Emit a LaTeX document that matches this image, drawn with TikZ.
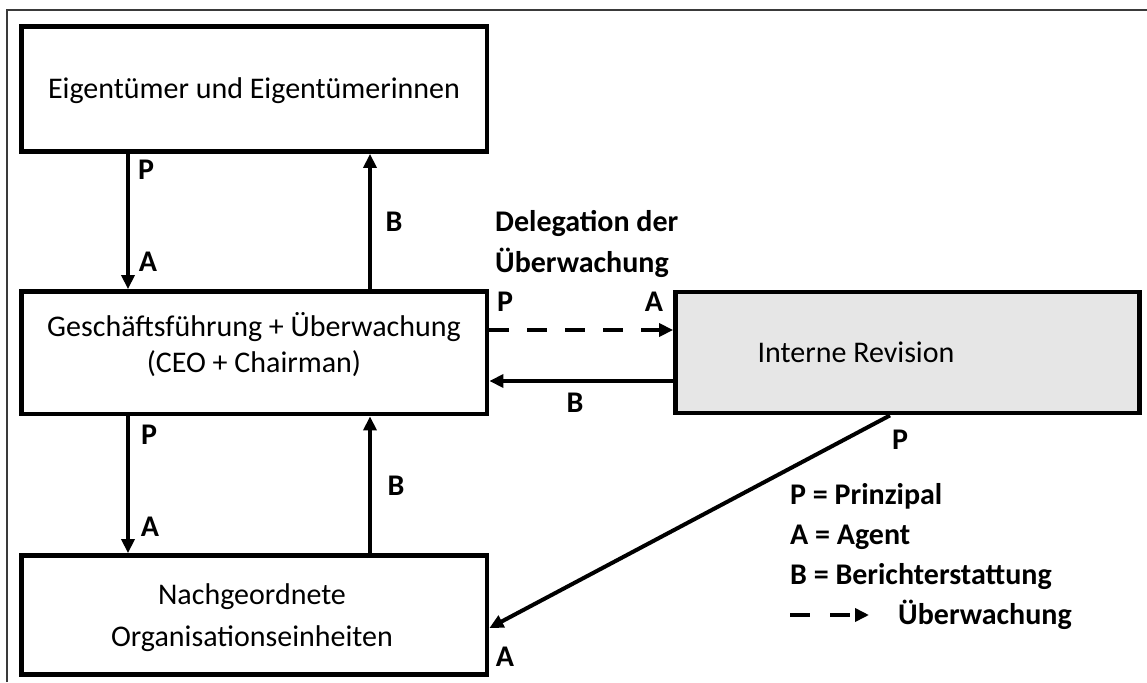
\documentclass[tikz,border=0pt]{standalone}
\usepackage{fontspec}
\setmainfont{Carlito}
\usetikzlibrary{arrows.meta,calc}
\definecolor{revfill}{HTML}{E6E6E6}
\definecolor{framegray}{HTML}{3A3A3A}
\begin{document}
\begin{tikzpicture}[x=1pt,y=-1pt,
  box/.style={draw, line width=4.8pt, rectangle, inner sep=0pt, outer sep=2.4pt,
              minimum width=465.5pt},
  boxtext/.style={font=\fontsize{30}{36}\selectfont, align=center, anchor=base, inner sep=0pt},
  lbl/.style={font=\fontsize{30}{36}\selectfont\bfseries, inner sep=0pt},
  flow/.style={line width=4pt, -{Triangle[length=14pt,width=13pt]}},
  watch/.style={flow, dash pattern=on 20pt off 18pt},
]
% canvas
\fill[white] (0,0) rectangle (1147,682);
\useasboundingbox (0,0) rectangle (1147,682);

% outer frame (only top and left edges fall inside the page)
\coordinate (fbl) at (7,682);
\coordinate (ftl) at (7,10);
\coordinate (ftr) at (1147,10);
\draw[line width=2pt, framegray] (fbl) -- (ftl) -- (ftr);

% boxes
\node[box, minimum height=125pt] (own) at (254.25,89) {};
\node[box, minimum height=122.5pt] (ceo) at (254.25,352.75) {};
\node[box, minimum height=119pt] (org) at (254.25,615) {};
\node[box, fill=revfill, minimum width=464pt, minimum height=121pt] (rev) at (907.5,352.5) {};

% box texts (a multi-line node's base anchor sits on its last line)
\node[boxtext] (ownT) at (254,98.7) {Eigentümer und Eigentümerinnen};
\node[boxtext] (ceoT) at (254,372.7) {Geschäftsführung + Überwachung\\(CEO + Chairman)};
\node[boxtext, font=\fontsize{30}{42}\selectfont] (orgT) at (252,646.7) {Nachgeordnete\\Organisationseinheiten};
\node[boxtext] (revT) at (856,362) {Interne Revision};

% guide coordinates for connector positions
\coordinate (xl) at (128,0);
\coordinate (xr) at (370,0);
\coordinate (ydash) at (0,330);
\coordinate (yback) at (0,381);
\coordinate (xd) at (890,0);
\coordinate (yd) at (0,628);

% vertical connectors
\draw[flow] (own.south -| xl) -- (ceo.north -| xl);
\draw[flow] (ceo.north -| xr) -- (own.south -| xr);
\draw[flow] (ceo.south -| xl) -- (org.north -| xl);
\draw[flow] (org.north -| xr) -- (ceo.south -| xr);

% connectors to and from the internal audit
\draw[watch] (ceo.east |- ydash) -- (rev.west |- ydash);
\draw[flow] (rev.west |- yback) -- (ceo.east |- yback);
\draw[flow] (rev.south -| xd) -- (org.east |- yd);

% role labels
\node[lbl] (p1) at (146,170) {P};
\node[lbl] (a1) at (148,262) {A};
\node[lbl] (b1) at (394,222) {B};
\node[lbl] (p2) at (149,435) {P};
\node[lbl] (a2) at (150,527) {A};
\node[lbl] (b2) at (396,486) {B};
\node[lbl] (p3) at (505,302) {P};
\node[lbl] (a3) at (654,302) {A};
\node[lbl] (b3) at (575,403) {B};
\node[lbl] (p4) at (900,440) {P};
\node[lbl] (a4) at (505,657) {A};

\node[lbl, anchor=base west, align=left, font=\fontsize{30}{41}\selectfont\bfseries]
  (deleg) at (495,272.5) {Delegation der\\Überwachung};

% legend
\node[lbl, anchor=base west] (kP) at (790,504.5) {P = Prinzipal};
\node[lbl, anchor=base west] (kA) at (790,544.5) {A = Agent};
\node[lbl, anchor=base west] (kB) at (790,584.5) {B = Berichterstattung};
\coordinate (k1) at (790,615);
\coordinate (k2) at (869,615);
\draw[watch, dash pattern=on 20pt off 20pt] (k1) -- (k2);
\node[lbl, anchor=base west] (kU) at (898,624) {Überwachung};
\end{tikzpicture}
\end{document}
